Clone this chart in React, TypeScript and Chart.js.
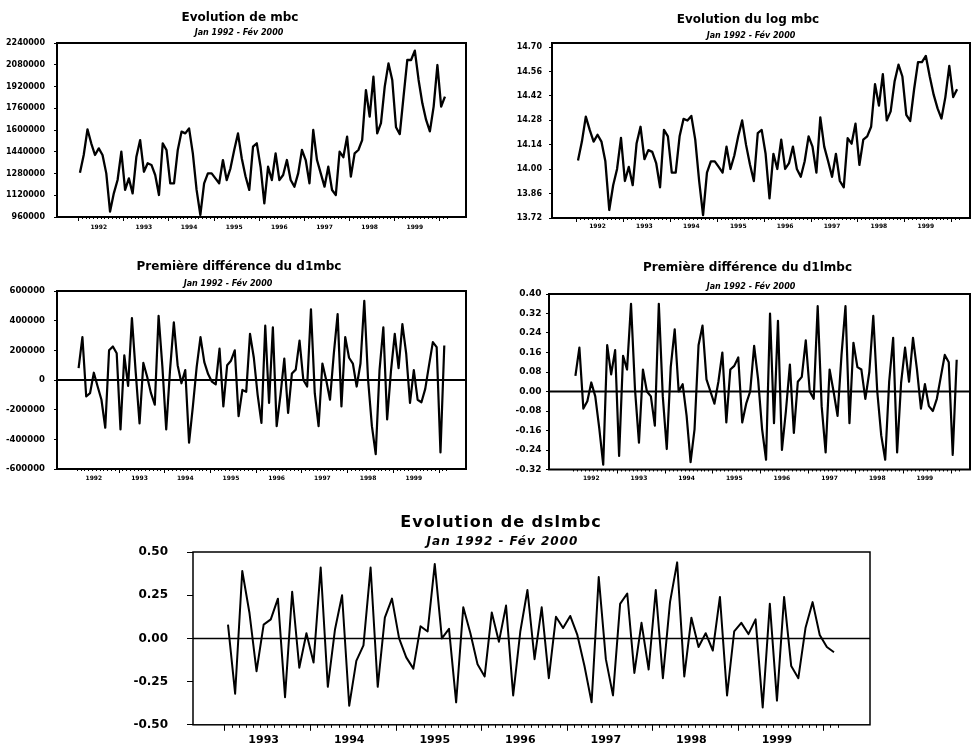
import React, { useEffect, useRef } from "react";
import { Chart, registerables } from "chart.js";

Chart.register(...registerables);

// ---------------- data ----------------
const YEARS = [1992, 1993, 1994, 1995, 1996, 1997, 1998, 1999];
const YEARS_BOTTOM = [1993, 1994, 1995, 1996, 1997, 1998, 1999];
const SUBTITLE = "Jan 1992 - Fév 2000";

// month index: 0 = Jan 1992
const MBC_START = 0;
const MBC = [
  1286000, 1416000, 1605000, 1502000, 1416000, 1465000, 1416000, 1281000, 1000000, 1134000,
  1232000, 1441000, 1159000, 1244000, 1134000, 1404000, 1526000, 1293000, 1355000, 1343000,
  1269000, 1122000, 1502000, 1453000, 1208000, 1208000, 1453000, 1588000, 1575000, 1612000,
  1428000, 1159000, 975000, 1208000, 1281000, 1281000, 1244000, 1208000, 1379000, 1232000,
  1318000, 1453000, 1575000, 1392000, 1260000, 1159000, 1477000, 1502000, 1330000, 1060000,
  1330000, 1232000, 1428000, 1232000, 1269000, 1379000, 1232000, 1183000, 1281000, 1453000,
  1379000, 1208000, 1600000, 1379000, 1281000, 1183000, 1330000, 1159000, 1122000, 1440000,
  1400000, 1551000, 1257000, 1428000, 1453000, 1526000, 1894000, 1698000, 1992000, 1575000,
  1650000, 1919000, 2090000, 1968000, 1620000, 1570000, 1845000, 2115000, 2115000, 2184000,
  1968000, 1796000, 1674000, 1590000, 1772000, 2078000, 1772000, 1845000,
];
const LMBC = [
  14.05, 14.158, 14.301, 14.225, 14.158, 14.197, 14.158, 14.045, 13.766, 13.908,
  14.001, 14.179, 13.932, 14.013, 13.908, 14.149, 14.243, 14.057, 14.109, 14.099,
  14.035, 13.896, 14.225, 14.188, 13.98, 13.98, 14.188, 14.288, 14.279, 14.305,
  14.169, 13.932, 13.737, 13.98, 14.045, 14.045, 14.013, 13.98, 14.129, 14.001,
  14.078, 14.188, 14.279, 14.139, 14.027, 13.932, 14.207, 14.225, 14.088, 13.832,
  14.088, 14.001, 14.169, 14.001, 14.035, 14.129, 14.001, 13.956, 14.045, 14.188,
  14.129, 13.98, 14.297, 14.129, 14.045, 13.956, 14.088, 13.932, 13.896, 14.178,
  14.146, 14.261, 14.024, 14.169, 14.188, 14.243, 14.487, 14.364, 14.545, 14.279,
  14.331, 14.502, 14.599, 14.531, 14.311, 14.276, 14.458, 14.613, 14.613, 14.649,
  14.531, 14.427, 14.348, 14.29, 14.413, 14.592, 14.413, 14.458,
];

const D1_START = 1; // Feb 1992
const D1MBC = [
  80000, 289000, -111000, -89000, 49000, -44000, -133000, -322000, 200000, 226000,
  180000, -333000, 166000, -40000, 417000, 50000, -293000, 115000, 22000, -89000,
  -166000, 433000, 89000, -333000, 67000, 389000, 100000, -22000, 67000, -422000,
  -178000, 89000, 289000, 120000, 40000, -11000, -30000, 211000, -178000, 100000,
  130000, 200000, -244000, -67000, -80000, 311000, 150000, -100000, -289000, 366000,
  -155000, 355000, -311000, -100000, 144000, -222000, 44000, 70000, 266000, 0,
  -44000, 477000, -89000, -311000, 111000, 0, -133000, 178000, 444000, -178000,
  289000, 150000, 111000, -44000, 111000, 533000, 0, -311000, -500000, 67000,
  355000, -266000, 60000, 311000, 80000, 377000, 178000, -155000, 67000, -133000,
  -150000, -60000, 100000, 255000, 222000, -488000, 233000,
];
const D1LMBC = [
  0.064, 0.18, -0.07, -0.04, 0.037, -0.02, -0.15, -0.3, 0.19, 0.07,
  0.17, -0.264, 0.146, 0.09, 0.36, 0.01, -0.21, 0.09, 0.0, -0.02,
  -0.14, 0.36, -0.02, -0.236, 0.1, 0.255, 0.0, 0.03, -0.1, -0.29,
  -0.154, 0.19, 0.27, 0.05, 0.0, -0.05, 0.04, 0.16, -0.127, 0.09,
  0.105, 0.14, -0.127, -0.05, 0.0, 0.187, 0.05, -0.154, -0.28, 0.32,
  -0.13, 0.29, -0.24, -0.08, 0.11, -0.17, 0.04, 0.06, 0.21, 0.0,
  -0.03, 0.35, -0.06, -0.25, 0.09, 0.0, -0.1, 0.15, 0.35, -0.13,
  0.2, 0.1, 0.09, -0.03, 0.08, 0.31, 0.0, -0.18, -0.28, 0.04,
  0.22, -0.25, 0.035, 0.18, 0.04, 0.22, 0.09, -0.07, 0.03, -0.06,
  -0.08, -0.03, 0.06, 0.15, 0.12, -0.26, 0.13,
];

const DS_START = 12; // Jan 1993
const DSLMBC = [
  0.08, -0.32, 0.39, 0.15, -0.19, 0.08, 0.11, 0.23, -0.34, 0.27,
  -0.17, 0.03, -0.14, 0.41, -0.28, 0.05, 0.25, -0.39, -0.13, -0.04,
  0.41, -0.28, 0.12, 0.23, 0.0, -0.11, -0.175, 0.07, 0.04, 0.43,
  0.0, 0.055, -0.37, 0.18, 0.03, -0.15, -0.22, 0.15, -0.02, 0.19,
  -0.33, 0.04, 0.28, -0.12, 0.18, -0.23, 0.125, 0.06, 0.13, 0.02,
  -0.16, -0.37, 0.355, -0.12, -0.33, 0.2, 0.26, -0.2, 0.09, -0.18,
  0.28, -0.23, 0.21, 0.44, -0.22, 0.12, -0.05, 0.03, -0.07, 0.24,
  -0.33, 0.04, 0.09, 0.025, 0.11, -0.4, 0.2, -0.36, 0.24, -0.16,
  -0.23, 0.06, 0.21, 0.02, -0.05, -0.08,
];

const MBC_TICKS = [960000, 1120000, 1280000, 1440000, 1600000, 1760000, 1920000, 2080000, 2240000];
const LMBC_TICKS = [13.72, 13.86, 14.0, 14.14, 14.28, 14.42, 14.56, 14.7];
const D1MBC_TICKS = [-600000, -400000, -200000, 0, 200000, 400000, 600000];
const D1LMBC_TICKS = [-0.32, -0.24, -0.16, -0.08, 0, 0.08, 0.16, 0.24, 0.32, 0.4];
const DS_TICKS = [-0.5, -0.25, 0, 0.25, 0.5];

// ---------------- layout / style ----------------
const FONT = "'DejaVu Sans', Verdana, sans-serif";

type Panel = {
  title: string;
  series: number[];
  start: number;
  years: number[];
  yTicks: number[];
  yFmt: (v: number) => string;
  canvas: [number, number, number, number];
  box: [number, number, number, number];
  xMin: number; xMax: number; yMin: number; yMax: number;
  titleAt: [number, number]; titleSize: number; titleSpacing: number;
  subAt: [number, number]; subSize: number; subSpacing: number;
  yFont: number; yTickLen: number; yPad: number;
  xFont: number; xPad: number;
  lineWidth: number; frameWidth: number;
  zero: boolean; zeroWidth: number;
  minorLen: number; majorLen: number;
};

const plain = (v: number) => String(Math.round(v));
const two = (v: number) => v.toFixed(2);

const PANELS: Panel[] = [
  {
    title: "Evolution de mbc", series: MBC, start: MBC_START, years: YEARS,
    yTicks: MBC_TICKS, yFmt: plain,
    canvas: [0, 0, 480, 240], box: [57, 43, 466, 217],
    xMin: -6.1, xMax: 102.6, yMin: 960000, yMax: 2240000,
    titleAt: [240, 18.3], titleSize: 12, titleSpacing: 0,
    subAt: [239, 33.3], subSize: 8, subSpacing: 0,
    yFont: 8, yTickLen: 3, yPad: 9, xFont: 6, xPad: 7,
    lineWidth: 2.3, frameWidth: 2, zero: false, zeroWidth: 2, minorLen: 2, majorLen: 4,
  },
  {
    title: "Evolution du log mbc", series: LMBC, start: MBC_START, years: YEARS,
    yTicks: LMBC_TICKS, yFmt: two,
    canvas: [480, 0, 491, 240], box: [552, 43, 970, 218],
    xMin: -6.65, xMax: 100.3, yMin: 13.72, yMax: 14.723,
    titleAt: [748, 20], titleSize: 12, titleSpacing: 0,
    subAt: [751, 36], subSize: 8, subSpacing: 0,
    yFont: 8, yTickLen: 3, yPad: 7, xFont: 6, xPad: 4.8,
    lineWidth: 2.3, frameWidth: 2, zero: false, zeroWidth: 2, minorLen: 2, majorLen: 4,
  },
  {
    title: "Première différence du d1mbc", series: D1MBC, start: D1_START, years: YEARS,
    yTicks: D1MBC_TICKS, yFmt: plain,
    canvas: [0, 240, 480, 255], box: [57, 291, 466, 469],
    xMin: -4.67, xMax: 102.7, yMin: -600000, yMax: 600000,
    titleAt: [239, 266.7], titleSize: 12, titleSpacing: 0,
    subAt: [228, 284.3], subSize: 8, subSpacing: 0,
    yFont: 8.5, yTickLen: 3, yPad: 9, xFont: 6, xPad: 5.4,
    lineWidth: 2.2, frameWidth: 2, zero: true, zeroWidth: 2.2, minorLen: 2, majorLen: 4,
  },
  {
    title: "Première différence du d1lmbc", series: D1LMBC, start: D1_START, years: YEARS,
    yTicks: D1LMBC_TICKS, yFmt: two,
    canvas: [480, 240, 491, 255], box: [549, 294, 970, 469.5],
    xMin: -5.65, xMax: 100.35, yMin: -0.32, yMax: 0.4,
    titleAt: [747.5, 268.3], titleSize: 12, titleSpacing: 0,
    subAt: [751, 286.7], subSize: 8, subSpacing: 0,
    yFont: 9, yTickLen: 3, yPad: 4.6, xFont: 6, xPad: 5,
    lineWidth: 2.2, frameWidth: 2, zero: true, zeroWidth: 2.2, minorLen: 2, majorLen: 4,
  },
  {
    title: "Evolution de dslmbc", series: DSLMBC, start: DS_START, years: YEARS_BOTTOM,
    yTicks: DS_TICKS, yFmt: two,
    canvas: [100, 495, 871, 256], box: [193, 552, 870, 731],
    xMin: 7.09, xMax: 102.05, yMin: -0.5, yMax: 0.5,
    titleAt: [501, 523.3], titleSize: 16, titleSpacing: 1,
    subAt: [502.5, 542], subSize: 12, subSpacing: 1,
    yFont: 12, yTickLen: 6, yPad: 19, xFont: 11, xPad: 8.4,
    lineWidth: 2, frameWidth: 1.5, zero: true, zeroWidth: 1.5, minorLen: 3, majorLen: 6,
  },
];

// frame, zero line, monthly x ticks and titles
const decorPlugin = {
  id: "decor",
  afterDatasetsDraw(chart: any, _args: any, o: any) {
    const { ctx, chartArea: a, scales } = chart;
    const x = scales.x;
    const y = scales.y;
    ctx.save();
    ctx.strokeStyle = "#000";
    ctx.fillStyle = "#000";
    if (o.zero) {
      const py = y.getPixelForValue(0);
      ctx.lineWidth = o.zeroWidth;
      ctx.beginPath();
      ctx.moveTo(a.left, py);
      ctx.lineTo(a.right, py);
      ctx.stroke();
    }
    ctx.lineWidth = o.frameWidth;
    ctx.strokeRect(a.left, a.top, a.right - a.left, a.bottom - a.top);
    ctx.lineWidth = 1;
    for (let m = o.first; m <= o.last + 1; m++) {
      const b = m - 0.5;
      const px = Math.round(x.getPixelForValue(b)) + 0.5;
      const major = ((m % 12) + 12) % 12 === 0;
      const len = major ? o.majorLen : o.minorLen;
      ctx.beginPath();
      ctx.moveTo(px, a.bottom);
      ctx.lineTo(px, a.bottom + len);
      ctx.stroke();
    }
    ctx.textAlign = "center";
    ctx.textBaseline = "middle";
    for (const t of o.texts) {
      ctx.font = t.font;
      (ctx as any).letterSpacing = t.spacing + "px";
      ctx.fillText(t.text, t.x, t.y);
    }
    (ctx as any).letterSpacing = "0px";
    ctx.restore();
  },
};

function makeConfig(p: Panel): any {
  const [cx, cy, cw, ch] = p.canvas;
  const [L, T, R, B] = p.box;
  const data = p.series.map((v, i) => ({ x: p.start + i, y: v }));
  return {
    type: "line",
    data: {
      datasets: [
        {
          data,
          borderColor: "#000",
          borderWidth: p.lineWidth,
          pointRadius: 0,
          tension: 0,
          fill: false,
          borderJoinStyle: "round",
        },
      ],
    },
    options: {
      responsive: false,
      animation: false,
      devicePixelRatio: 1,
      layout: { padding: { left: 0, top: T - cy, right: cx + cw - R, bottom: 0 } },
      plugins: {
        legend: { display: false },
        tooltip: { enabled: false },
        title: { display: false },
        decor: {
          zero: p.zero,
          zeroWidth: p.zeroWidth,
          frameWidth: p.frameWidth,
          first: p.start,
          last: p.start + p.series.length - 1,
          minorLen: p.minorLen,
          majorLen: p.majorLen,
          texts: [
            {
              text: p.title,
              x: p.titleAt[0] - cx,
              y: p.titleAt[1] - cy,
              font: `bold ${p.titleSize}px ${FONT}`,
              spacing: p.titleSpacing,
            },
            {
              text: SUBTITLE,
              x: p.subAt[0] - cx,
              y: p.subAt[1] - cy,
              font: `italic bold ${p.subSize}px ${FONT}`,
              spacing: p.subSpacing,
            },
          ],
        },
      },
      scales: {
        x: {
          type: "linear",
          position: "bottom",
          min: p.xMin,
          max: p.xMax,
          grid: { display: false, drawTicks: false },
          border: { display: false },
          afterBuildTicks: (s: any) => {
            s.ticks = p.years.map((yr) => ({ value: (yr - 1992) * 12 + 5 }));
          },
          afterFit: (s: any) => {
            s.height = cy + ch - B;
          },
          ticks: {
            autoSkip: false,
            maxRotation: 0,
            minRotation: 0,
            padding: p.xPad,
            color: "#000",
            font: { family: FONT, size: p.xFont, weight: "bold" },
            callback: (v: number) => String(1992 + Math.floor(v / 12)),
          },
        },
        y: {
          type: "linear",
          position: "left",
          min: p.yMin,
          max: p.yMax,
          grid: {
            display: true,
            drawOnChartArea: false,
            drawTicks: true,
            tickLength: p.yTickLen,
            tickColor: "#000",
            tickWidth: 1,
          },
          border: { display: false },
          afterBuildTicks: (s: any) => {
            s.ticks = p.yTicks.map((v) => ({ value: v }));
          },
          afterFit: (s: any) => {
            s.width = L - cx;
          },
          ticks: {
            padding: p.yPad,
            color: "#000",
            font: { family: FONT, size: p.yFont, weight: "bold" },
            callback: (v: number) => p.yFmt(v),
          },
        },
      },
    },
    plugins: [decorPlugin],
  };
}

function PanelChart({ p }: { p: Panel }) {
  const ref = useRef<HTMLCanvasElement | null>(null);
  useEffect(() => {
    if (!ref.current) return;
    const chart = new Chart(ref.current, makeConfig(p));
    return () => chart.destroy();
  }, [p]);
  const [cx, cy, cw, ch] = p.canvas;
  return (
    <canvas
      ref={ref}
      width={cw}
      height={ch}
      style={{ position: "absolute", left: cx, top: cy, width: cw, height: ch, display: "block" }}
    />
  );
}

export default function App() {
  return (
    <div
      style={{
        position: "absolute",
        left: 0,
        top: 0,
        width: 971,
        height: 751,
        background: "#fff",
        overflow: "hidden",
      }}
    >
      {PANELS.map((p, i) => (
        <PanelChart key={i} p={p} />
      ))}
    </div>
  );
}
